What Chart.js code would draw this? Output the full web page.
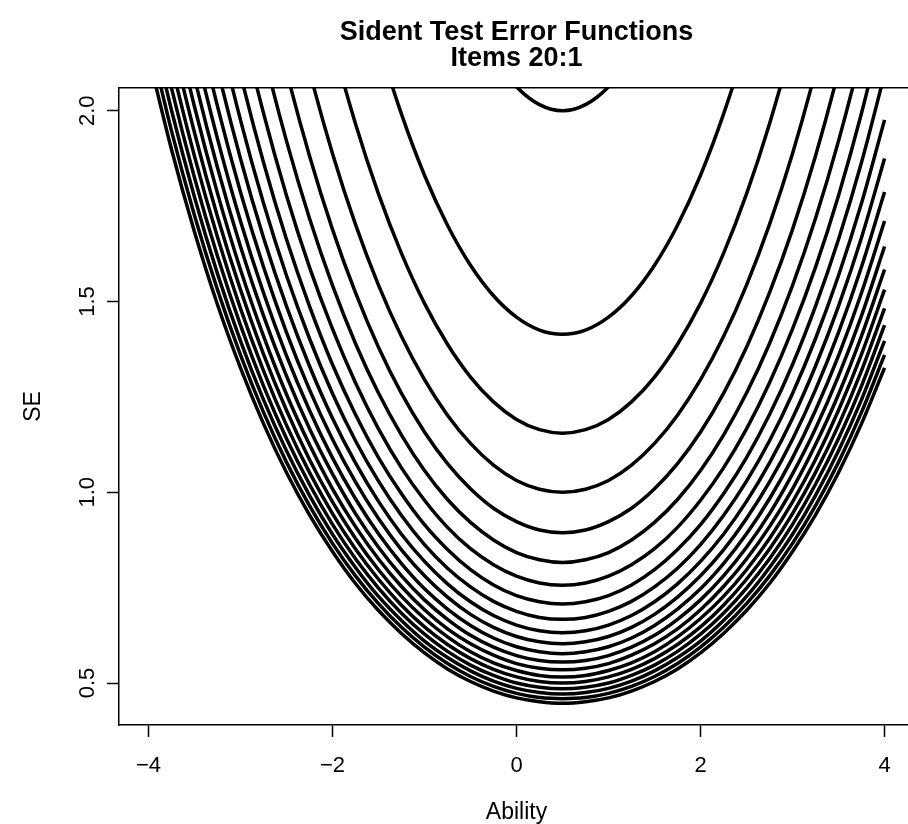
<!DOCTYPE html>
<html>
<head>
<meta charset="utf-8">
<title>Sident Test Error Functions</title>
<script src="https://cdn.jsdelivr.net/npm/chart.js@4.4.1/dist/chart.umd.min.js"></script>
<style>
  html, body { margin: 0; padding: 0; background: #fff; overflow: hidden; }
  #wrap { width: 916px; height: 824px; }
</style>
</head>
<body>
<div id="wrap"><canvas id="seChart" width="916" height="824"></canvas></div>
<script>
// ability grid shared by every curve
const theta = [-4, -3.75, -3.5, -3.25, -3, -2.75, -2.5, -2.25, -2, -1.75, -1.5, -1.25, -1, -0.75, -0.5, -0.25,
  0, 0.25, 0.5, 0.75, 1, 1.25, 1.5, 1.75, 2, 2.25, 2.5, 2.75, 3, 3.25, 3.5, 3.75, 4];

// standard error of the test, one array per number of items
const se01 = [9.593, 8.492, 7.524, 6.674, 5.928, 5.275, 4.705, 4.208, 3.777, 3.405, 3.086, 2.816, 2.589, 2.404, 2.255, 2.142, 2.063, 2.016, 2.000, 2.016, 2.063, 2.142, 2.255, 2.404, 2.589, 2.816, 3.086, 3.405, 3.777, 4.208, 4.705, 5.275, 5.928];
const se02 = [6.783, 6.005, 5.321, 4.719, 4.192, 3.730, 3.327, 2.975, 2.671, 2.408, 2.182, 1.991, 1.831, 1.700, 1.595, 1.515, 1.459, 1.425, 1.414, 1.425, 1.459, 1.515, 1.595, 1.700, 1.831, 1.991, 2.182, 2.408, 2.671, 2.975, 3.327, 3.730, 4.192];
const se03 = [5.539, 4.903, 4.344, 3.853, 3.423, 3.046, 2.716, 2.429, 2.181, 1.966, 1.782, 1.626, 1.495, 1.388, 1.302, 1.237, 1.191, 1.164, 1.155, 1.164, 1.191, 1.237, 1.302, 1.388, 1.495, 1.626, 1.782, 1.966, 2.181, 2.429, 2.716, 3.046, 3.423];
const se04 = [4.797, 4.246, 3.762, 3.337, 2.964, 2.638, 2.352, 2.104, 1.888, 1.702, 1.543, 1.408, 1.295, 1.202, 1.128, 1.071, 1.031, 1.008, 1.000, 1.008, 1.031, 1.071, 1.128, 1.202, 1.295, 1.408, 1.543, 1.702, 1.888, 2.104, 2.352, 2.638, 2.964];
const se05 = [4.290, 3.798, 3.365, 2.985, 2.651, 2.359, 2.104, 1.882, 1.689, 1.523, 1.380, 1.259, 1.158, 1.075, 1.009, 0.958, 0.923, 0.901, 0.894, 0.901, 0.923, 0.958, 1.009, 1.075, 1.158, 1.259, 1.380, 1.523, 1.689, 1.882, 2.104, 2.359, 2.651];
const se06 = [3.916, 3.467, 3.072, 2.725, 2.420, 2.154, 1.921, 1.718, 1.542, 1.390, 1.260, 1.150, 1.057, 0.981, 0.921, 0.875, 0.842, 0.823, 0.816, 0.823, 0.842, 0.875, 0.921, 0.981, 1.057, 1.150, 1.260, 1.390, 1.542, 1.718, 1.921, 2.154, 2.420];
const se07 = [3.626, 3.210, 2.844, 2.523, 2.241, 1.994, 1.778, 1.590, 1.428, 1.287, 1.166, 1.064, 0.979, 0.908, 0.852, 0.810, 0.780, 0.762, 0.756, 0.762, 0.780, 0.810, 0.852, 0.908, 0.979, 1.064, 1.166, 1.287, 1.428, 1.590, 1.778, 1.994, 2.241];
const se08 = [3.392, 3.002, 2.660, 2.360, 2.096, 1.865, 1.663, 1.488, 1.335, 1.204, 1.091, 0.996, 0.915, 0.850, 0.797, 0.757, 0.729, 0.713, 0.707, 0.713, 0.729, 0.757, 0.797, 0.850, 0.915, 0.996, 1.091, 1.204, 1.335, 1.488, 1.663, 1.865, 2.096];
const se09 = [3.198, 2.831, 2.508, 2.225, 1.976, 1.758, 1.568, 1.403, 1.259, 1.135, 1.029, 0.939, 0.863, 0.801, 0.752, 0.714, 0.688, 0.672, 0.667, 0.672, 0.688, 0.714, 0.752, 0.801, 0.863, 0.939, 1.029, 1.135, 1.259, 1.403, 1.568, 1.758, 1.976];
const se10 = [3.034, 2.686, 2.379, 2.111, 1.875, 1.668, 1.488, 1.331, 1.194, 1.077, 0.976, 0.890, 0.819, 0.760, 0.713, 0.677, 0.652, 0.637, 0.632, 0.637, 0.652, 0.677, 0.713, 0.760, 0.819, 0.890, 0.976, 1.077, 1.194, 1.331, 1.488, 1.668, 1.875];
const se11 = [2.892, 2.561, 2.269, 2.012, 1.787, 1.591, 1.419, 1.269, 1.139, 1.027, 0.931, 0.849, 0.781, 0.725, 0.680, 0.646, 0.622, 0.608, 0.603, 0.608, 0.622, 0.646, 0.680, 0.725, 0.781, 0.849, 0.931, 1.027, 1.139, 1.269, 1.419, 1.591, 1.787];
const se12 = [2.769, 2.452, 2.172, 1.927, 1.711, 1.523, 1.358, 1.215, 1.090, 0.983, 0.891, 0.813, 0.747, 0.694, 0.651, 0.618, 0.595, 0.582, 0.577, 0.582, 0.595, 0.618, 0.651, 0.694, 0.747, 0.813, 0.891, 0.983, 1.090, 1.215, 1.358, 1.523, 1.711];
const se13 = [2.661, 2.355, 2.087, 1.851, 1.644, 1.463, 1.305, 1.167, 1.048, 0.944, 0.856, 0.781, 0.718, 0.667, 0.625, 0.594, 0.572, 0.559, 0.555, 0.559, 0.572, 0.594, 0.625, 0.667, 0.718, 0.781, 0.856, 0.944, 1.048, 1.167, 1.305, 1.463, 1.644];
const se14 = [2.564, 2.270, 2.011, 1.784, 1.584, 1.410, 1.257, 1.125, 1.009, 0.910, 0.825, 0.753, 0.692, 0.642, 0.603, 0.573, 0.551, 0.539, 0.535, 0.539, 0.551, 0.573, 0.603, 0.642, 0.692, 0.753, 0.825, 0.910, 1.009, 1.125, 1.257, 1.410, 1.584];
const se15 = [2.477, 2.193, 1.943, 1.723, 1.531, 1.362, 1.215, 1.086, 0.975, 0.879, 0.797, 0.727, 0.669, 0.621, 0.582, 0.553, 0.533, 0.520, 0.516, 0.520, 0.533, 0.553, 0.582, 0.621, 0.669, 0.727, 0.797, 0.879, 0.975, 1.086, 1.215, 1.362, 1.531];
const se16 = [2.398, 2.123, 1.881, 1.669, 1.482, 1.319, 1.176, 1.052, 0.944, 0.851, 0.772, 0.704, 0.647, 0.601, 0.564, 0.536, 0.516, 0.504, 0.500, 0.504, 0.516, 0.536, 0.564, 0.601, 0.647, 0.704, 0.772, 0.851, 0.944, 1.052, 1.176, 1.319, 1.482];
const se17 = [2.327, 2.060, 1.825, 1.619, 1.438, 1.279, 1.141, 1.021, 0.916, 0.826, 0.749, 0.683, 0.628, 0.583, 0.547, 0.520, 0.500, 0.489, 0.485, 0.489, 0.500, 0.520, 0.547, 0.583, 0.628, 0.683, 0.749, 0.826, 0.916, 1.021, 1.141, 1.279, 1.438];
const se18 = [2.261, 2.002, 1.774, 1.573, 1.397, 1.243, 1.109, 0.992, 0.890, 0.803, 0.727, 0.664, 0.610, 0.567, 0.532, 0.505, 0.486, 0.475, 0.471, 0.475, 0.486, 0.505, 0.532, 0.567, 0.610, 0.664, 0.727, 0.803, 0.890, 0.992, 1.109, 1.243, 1.397];
const se19 = [2.201, 1.948, 1.726, 1.531, 1.360, 1.210, 1.079, 0.965, 0.866, 0.781, 0.708, 0.646, 0.594, 0.551, 0.517, 0.491, 0.473, 0.462, 0.459, 0.462, 0.473, 0.491, 0.517, 0.551, 0.594, 0.646, 0.708, 0.781, 0.866, 0.965, 1.079, 1.210, 1.360];
const se20 = [2.145, 1.899, 1.683, 1.492, 1.326, 1.180, 1.052, 0.941, 0.845, 0.761, 0.690, 0.630, 0.579, 0.537, 0.504, 0.479, 0.461, 0.451, 0.447, 0.451, 0.461, 0.479, 0.504, 0.537, 0.579, 0.630, 0.690, 0.761, 0.845, 0.941, 1.052, 1.180, 1.326];

const itemCounts = [20, 19, 18, 17, 16, 15, 14, 13, 12, 11, 10, 9, 8, 7, 6, 5, 4, 3, 2, 1];
const curves = [se20, se19, se18, se17, se16, se15, se14, se13, se12, se11, se10, se09, se08, se07, se06, se05, se04, se03, se02, se01];

const abilityTicks = [-4, -2, 0, 2, 4];
const seTicks = [0.5, 1.0, 1.5, 2.0];

const FONT = '"Liberation Sans", Arial, Helvetica, sans-serif';
const tickFont = { family: FONT, size: 22 };

const ctx = document.getElementById('seChart').getContext('2d');
new Chart(ctx, {
  type: 'line',
  data: {
    datasets: curves.map((se, i) => ({
      label: itemCounts[i] + ' items',
      data: theta.map((t, j) => ({ x: t, y: se[j] })),
      borderColor: '#000',
      borderWidth: 3.5,
      borderJoinStyle: 'round',
      pointRadius: 0,
      fill: false,
      cubicInterpolationMode: 'monotone',
    })),
  },
  options: {
    responsive: false,
    animation: false,
    devicePixelRatio: 1,
    layout: { padding: { left: 0, right: 2, top: 0, bottom: 0 } },
    plugins: {
      legend: { display: false },
      tooltip: { enabled: false },
      title: {
        display: true,
        fullSize: false,
        text: ['Sident Test Error Functions', 'Items 20:1'],
        color: '#000',
        font: { family: FONT, size: 27, weight: 'bold', lineHeight: 0.96 },
        padding: { top: 20, bottom: 16 },
      },
    },
    scales: {
      x: {
        type: 'linear',
        position: 'bottom',
        min: -4.32,
        max: 4.32,
        afterBuildTicks: s => { s.ticks = abilityTicks.map(v => ({ value: v })); },
        afterFit: s => { s.height = 99; },
        ticks: {
          color: '#000',
          font: tickFont,
          padding: 16,
          maxRotation: 0,
          callback: v => (v < 0 ? '\u2212' + Math.abs(v) : String(v)),
        },
        grid: { drawOnChartArea: false, tickLength: 12, tickColor: '#000', tickWidth: 1.5 },
        border: { display: true, color: '#000', width: 1.5 },
        title: {
          display: true,
          text: 'Ability',
          color: '#000',
          font: { family: FONT, size: 23, lineHeight: 0.95 },
          padding: { top: 0, bottom: 0 },
        },
      },
      xTop: {
        type: 'linear',
        position: 'top',
        min: -4.32,
        max: 4.32,
        afterFit: s => { s.height = 0; },
        ticks: { display: false },
        grid: { display: false },
        border: { display: true, color: '#000', width: 1.5 },
      },
      y: {
        type: 'linear',
        min: 0.39,
        max: 2.06,
        afterBuildTicks: s => { s.ticks = seTicks.map(v => ({ value: v })); },
        afterFit: s => { s.width = 119; },
        ticks: {
          color: '#000',
          font: tickFont,
          padding: 4,
          minRotation: 90,
          maxRotation: 90,
          crossAlign: 'center',
          callback: v => v.toFixed(1),
        },
        grid: { drawOnChartArea: false, tickLength: 12, tickColor: '#000', tickWidth: 1.5 },
        border: { display: true, color: '#000', width: 1.5 },
        title: {
          display: true,
          text: 'SE',
          color: '#000',
          font: { family: FONT, size: 23 },
          padding: { top: 20, bottom: 0 },
        },
      },
    },
  },
});
</script>
</body>
</html>
